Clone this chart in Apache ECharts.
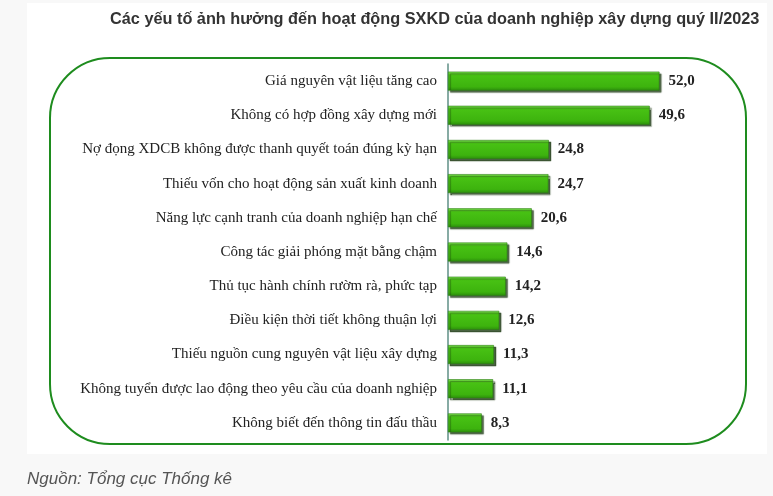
<!DOCTYPE html>
<html><head><meta charset="utf-8">
<script src="https://cdn.jsdelivr.net/npm/echarts@6/dist/echarts.min.js"></script>
<style>html,body{margin:0;padding:0;background:#f8f8f8;}#c{width:773px;height:496px;}</style>
</head><body><div id="c"></div>
<script>
const categories = [
  "Giá nguyên vật liệu tăng cao",
  "Không có hợp đồng xây dựng mới",
  "Nợ đọng XDCB không được thanh quyết toán đúng kỳ hạn",
  "Thiếu vốn cho hoạt động sản xuất kinh doanh",
  "Năng lực cạnh tranh của doanh nghiệp hạn chế",
  "Công tác giải phóng mặt bằng chậm",
  "Thủ tục hành chính rườm rà, phức tạp",
  "Điều kiện thời tiết không thuận lợi",
  "Thiếu nguồn cung nguyên vật liệu xây dựng",
  "Không tuyển được lao động theo yêu cầu của doanh nghiệp",
  "Không biết đến thông tin đấu thầu"
];
const values = [52.0, 49.6, 24.8, 24.7, 20.6, 14.6, 14.2, 12.6, 11.3, 11.1, 8.3];
const titleText = "Các yếu tố ảnh hưởng đến hoạt động SXKD của doanh nghiệp xây dựng quý II/2023";
const sourceText = "Nguồn: Tổng cục Thống kê";

const chart = echarts.init(document.getElementById('c'));
chart.setOption({
  backgroundColor: '#f8f8f8',
  animation: false,
  graphic: [
    { type: 'rect', z: -10, shape: { x: 27, y: 3, width: 740, height: 451 }, style: { fill: '#ffffff' } },
    { type: 'rect', z: -5, shape: { x: 50, y: 58, width: 696, height: 386, r: 60 },
      style: { fill: 'none', stroke: '#1e8c1e', lineWidth: 2 } },
    { type: 'text', left: 27, top: 471, style: { text: sourceText, font: 'italic 17px Arial, "Liberation Sans"', fill: '#555' } }
  ],
  title: {
    text: titleText, left: 105, top: 7,
    textStyle: { fontFamily: 'Arial, "Liberation Sans"', fontSize: 16.3, fontWeight: 'bold', color: '#333' }
  },
  grid: { left: 448, top: 64, width: 244, height: 376, containLabel: false },
  xAxis: { type: 'value', min: 0, max: 60, show: false },
  yAxis: {
    type: 'category', data: categories, inverse: true,
    axisLine: { show: true, lineStyle: { color: '#5f8f86', width: 1.5 } },
    axisTick: { show: false },
    axisLabel: { margin: 11, fontFamily: '"Liberation Serif", "Times New Roman", serif', fontSize: 15, color: '#222' }
  },
  series: [{
    type: 'bar', data: values, barWidth: 19,
    itemStyle: {
      color: { type: 'linear', x: 0, y: 0, x2: 0, y2: 1, colorStops: [
        { offset: 0, color: '#80e256' }, { offset: 0.18, color: '#48c214' },
        { offset: 0.8, color: '#3db30e' }, { offset: 1, color: '#2c8e0c' } ] },
      borderColor: '#2c7d12', borderWidth: 0.6,
      shadowColor: 'rgba(20,50,10,0.75)', shadowOffsetX: 2, shadowOffsetY: 2, shadowBlur: 1
    },
    label: {
      show: true, position: 'right', distance: 9,
      formatter: p => p.value.toFixed(1).replace('.', ','),
      fontFamily: '"Liberation Serif", "Times New Roman", serif', fontSize: 15, fontWeight: 'bold', color: '#222'
    }
  }]
});
</script></body></html>
